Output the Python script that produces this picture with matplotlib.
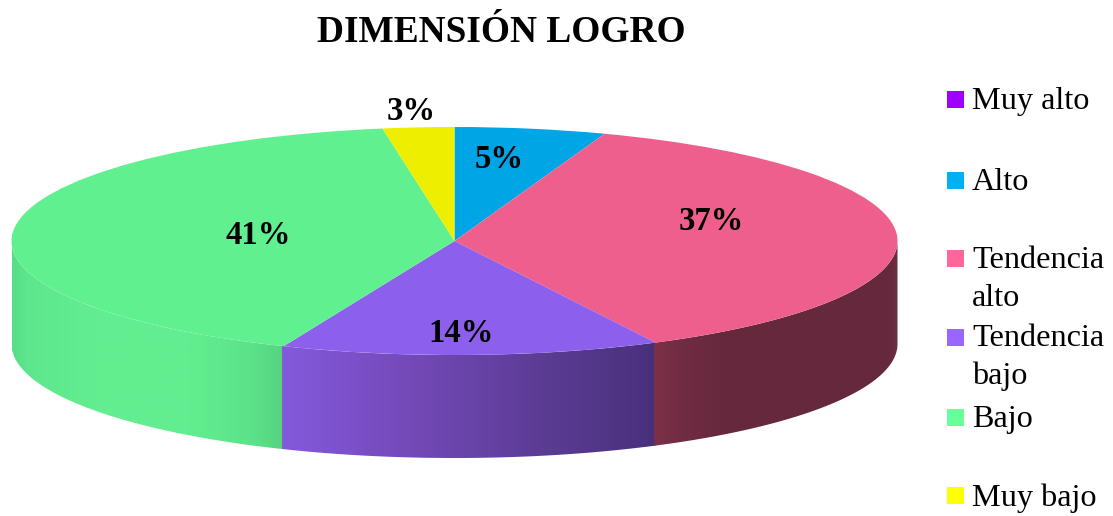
import numpy as np
from matplotlib import pyplot as plt
from matplotlib.colors import LinearSegmentedColormap
from matplotlib.patches import Polygon, Rectangle

# data
categories = ['Muy alto', 'Alto', 'Tendencia\nalto', 'Tendencia\nbajo', 'Bajo', 'Muy bajo']
shares = [0, 5.5, 37.0, 13.8, 41.1, 2.6]
pct_labels = ['', '5%', '37%', '14%', '41%', '3%']

# colours
top_colors = ['#a000ff', '#00a5e6', '#ee5f8d', '#8c5fec', '#61f08f', '#eeee00']
legend_colors = ['#a000ff', '#00b0f0', '#ff6699', '#9966ff', '#66ff99', '#ffff00']
wall_stops = {
    2: [(0, '#7c3048'), (0.12, '#702c42'), (0.3, '#66283c'), (0.97, '#66283c'), (1, '#6e3044')],
    3: [(0, '#8559dc'), (0.35, '#7349b8'), (0.75, '#583a90'), (0.95, '#4c3280'), (1, '#463078')],
    4: [(0, '#58dc88'), (0.05, '#5ee68c'), (0.3, '#62ee90'), (0.65, '#62ee90'), (0.88, '#5ce288'), (1, '#55d380')],
}

# layout in pixels of the picture
W, H = 1113, 516
CX, CY, RX, RY = 454.5, 241, 443, 114
DEPTH = 103 / RY
label_pos = [None, (499, 160), (711, 222), (461, 333), (258, 236), (411, 111)]
legend_y = [101, 182, 260, 339, 419, 498]
second_line_y = {2: 298, 3: 376}
box_y = [99, 180, 258, 337, 417, 496]


def px(x, y):
    return (x - CX) / RX, (CY - y) / RY


fig = plt.figure(figsize=(W / 100, H / 100), dpi=100)
ax = fig.add_axes([0, 0, 1, 1])

# top face
ax.pie(shares, colors=top_colors, startangle=90, counterclock=False,
       wedgeprops={'linewidth': 0, 'zorder': 3})
ax.set_aspect('auto')
x0, y1 = px(0, 0)
x1, y0 = px(W, H)

# side wall, only the front half shows
edges = np.cumsum([0] + shares) / 100 * 2 * np.pi
for i in wall_stops:
    a = max(edges[i], np.pi / 2)
    b = min(edges[i + 1], 3 * np.pi / 2)
    t = np.linspace(a, b + 0.004, 150)  # small overlap hides the seam
    xs, ys = np.sin(t), np.cos(t)
    pts = np.column_stack([np.r_[xs, xs[::-1]], np.r_[ys, ys[::-1] - DEPTH]])
    cmap = LinearSegmentedColormap.from_list(f'wall{i}', wall_stops[i])
    grad = np.linspace(0, 1, 256).reshape(1, -1)
    im = ax.imshow(grad, cmap=cmap, aspect='auto', zorder=2 - i * 0.1,
                   extent=(xs.min(), xs.max(), ys.min() - DEPTH, ys.max()))
    poly = Polygon(pts, closed=True, transform=ax.transData, facecolor='none', edgecolor='none')
    ax.add_patch(poly)
    im.set_clip_path(poly)

ax.set_xlim(x0, x1)
ax.set_ylim(y0, y1)
ax.axis('off')

serif = 'Liberation Serif'

# percent labels
for lab, pos in zip(pct_labels, label_pos):
    if pos is None:
        continue
    lx, ly = px(*pos)
    ax.text(lx, ly, lab, ha='center', va='center', family=serif,
            fontweight='bold', fontsize=23.5, color='black', zorder=5)

# title
tx, ty = px(501, 33)
ax.text(tx, ty, 'DIMENSIÓN LOGRO', ha='center', va='center', family=serif,
        fontweight='bold', fontsize=26.9, color='black')

# legend
for i, name in enumerate(categories):
    bx, by = px(947, box_y[i] + 8.5)
    ax.add_patch(Rectangle((bx, by), 17 / RX, 17 / RY, facecolor=legend_colors[i],
                           edgecolor='none', zorder=4))
    lines = name.split('\n')
    lx, ly = px(972, legend_y[i])
    ax.text(lx, ly, lines[0], ha='left', va='center', family=serif, fontsize=23.2, color='black')
    if len(lines) > 1:
        lx, ly = px(972, second_line_y[i])
        ax.text(lx, ly, lines[1], ha='left', va='center', family=serif, fontsize=23.2, color='black')

fig.savefig('out.png', dpi=100, facecolor='white')
